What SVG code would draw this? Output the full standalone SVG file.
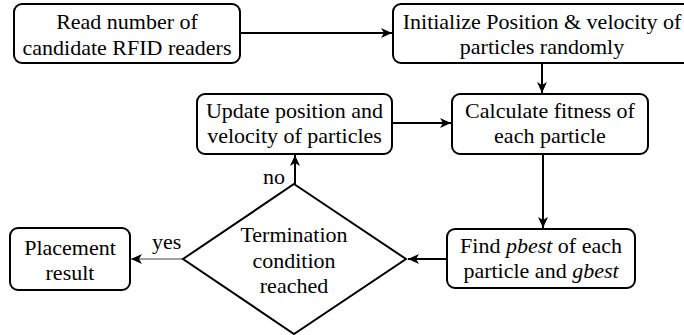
<svg xmlns="http://www.w3.org/2000/svg" width="684" height="335" viewBox="0 0 684 335" font-family="Liberation Serif, Times New Roman, serif" font-size="22">
<style>
.box{fill:#fff;stroke:#000;stroke-width:2}
.t{fill:#000;text-anchor:middle}
.lbl{fill:#000}
.c{fill:none;stroke:#000;stroke-width:2}
.thin{fill:none;stroke:#444;stroke-width:1}
</style>
<defs>
<marker id="arr" viewBox="0 0 12 12" refX="11" refY="6" markerWidth="12" markerHeight="12" markerUnits="userSpaceOnUse" orient="auto">
<path d="M0,1 L11,6 L0,11 L3,6 z" fill="#000"/>
</marker>
</defs>
<rect width="684" height="335" fill="#fff"/>
<g id="connectors">
<path class="c" d="M240,33 H392" marker-end="url(#arr)"/>
<path class="c" d="M542,63 V93" marker-end="url(#arr)"/>
<path class="c" d="M392,123 H451" marker-end="url(#arr)"/>
<path class="c" d="M543,154 V228" marker-end="url(#arr)"/>
<path class="c" d="M447,259 H408" marker-end="url(#arr)"/>
<path class="c" d="M295,184 V155" marker-end="url(#arr)"/>
<path class="thin" d="M183,259 H131" marker-end="url(#arr)"/>
<text class="lbl" x="263" y="184">no</text>
<text class="lbl" x="152" y="249">yes</text>
</g>
<g id="read">
<rect class="box" x="14" y="4" width="226" height="59" rx="8"/>
<text class="t" x="127" y="29">Read number of</text>
<text class="t" x="127" y="55">candidate RFID readers</text>
</g>
<g id="init">
<rect class="box" x="393" y="4" width="298" height="59" rx="8"/>
<text class="t" x="542" y="29">Initialize Position &amp; velocity of</text>
<text class="t" x="542" y="54">particles randomly</text>
</g>
<g id="calc">
<rect class="box" x="452" y="94" width="196" height="60" rx="8"/>
<text class="t" x="550" y="118">Calculate fitness of</text>
<text class="t" x="550" y="143">each particle</text>
</g>
<g id="update">
<rect class="box" x="197" y="94" width="195" height="60" rx="8"/>
<text class="t" x="294.5" y="118">Update position and</text>
<text class="t" x="294.5" y="143">velocity of particles</text>
</g>
<g id="find">
<rect class="box" x="447" y="229" width="188" height="59" rx="8"/>
<text class="t" x="541" y="253">Find <tspan font-style="italic">pbest</tspan> of each</text>
<text class="t" x="541" y="278">particle and <tspan font-style="italic">gbest</tspan></text>
</g>
<g id="decision">
<polygon class="box" points="294,184 406,259 294,334 183,259"/>
<text class="t" x="294" y="242">Termination</text>
<text class="t" x="294" y="268">condition</text>
<text class="t" x="294" y="293">reached</text>
</g>
<g id="placement">
<rect class="box" x="10" y="228" width="120" height="62" rx="8"/>
<text class="t" x="70" y="255">Placement</text>
<text class="t" x="70" y="280">result</text>
</g>
</svg>
